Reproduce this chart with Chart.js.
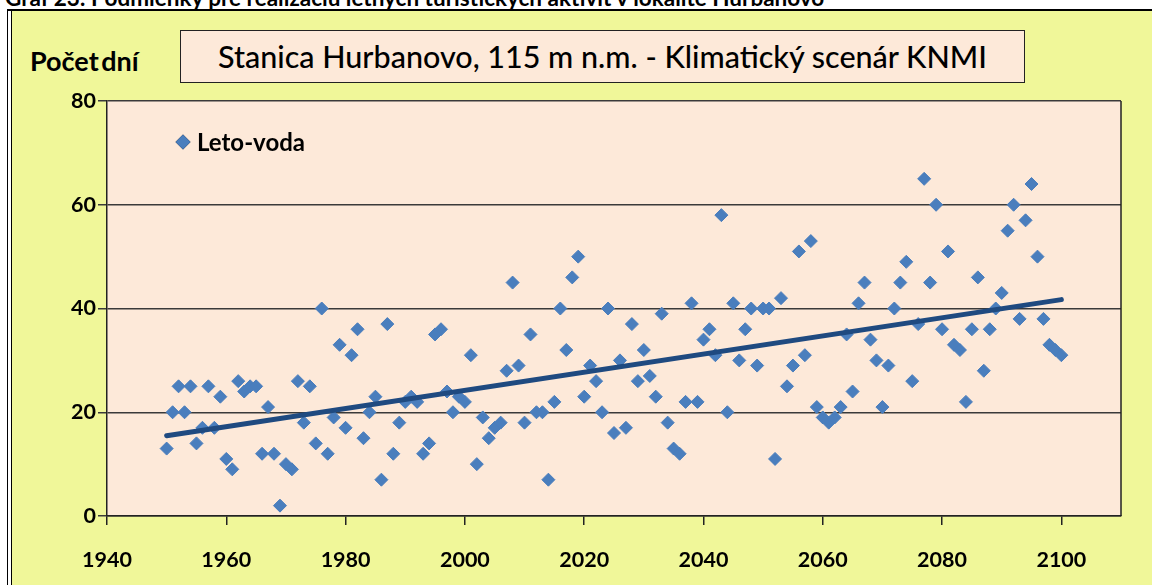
<!DOCTYPE html>
<html>
<head>
<meta charset="utf-8">
<script src="https://cdn.jsdelivr.net/npm/chart.js@4.4.1/dist/chart.umd.min.js"></script>
<style>
  html, body { margin: 0; padding: 0; width: 1152px; height: 585px; overflow: hidden; background: #fff; }
  #caption { position: absolute; left: 5px; top: -16px; font: bold 22.5px Lato, sans-serif; line-height: 27px; white-space: nowrap; color: #000; }
  #frame { position: absolute; left: 7px; top: 9px; width: 1160px; height: 590px; border-left: 1px solid #000; border-top: 2px solid #000; background: #fff; }
  #panel { position: absolute; left: 11px; top: 11px; width: 1160px; height: 590px; border-left: 1px solid #000; background: #F0F799; }
  #titlebox { position: absolute; left: 180px; top: 30px; width: 845px; height: 53px; box-sizing: border-box; border: 1px solid #222; background: #FDE9D9; font: 500 30.5px Lato, sans-serif; line-height: 51px; text-align: center; color: #000; white-space: nowrap; }
  #ylabel { position: absolute; left: 30px; top: 45px; font: bold 27px Lato, sans-serif; line-height: 32px; word-spacing: -4px; color: #000; white-space: nowrap; }
  #chart { position: absolute; left: 0; top: 0; }
</style>
</head>
<body>
<div id="caption">Graf 23: Podmienky pre realizáciu letných turistických aktivít v lokalite Hurbanovo</div>
<div id="frame"></div>
<div id="panel"></div>
<div id="titlebox">Stanica Hurbanovo, 115 m n.m. - Klimatický scenár KNMI</div>
<div id="ylabel">Počet dní</div>
<canvas id="chart" width="1152" height="585"></canvas>
<script>
// Number of summer water-recreation days per year ("Leto-voda"), 1950–2100
const seriesName = 'Leto-voda';
const firstYear = 1950;
const letoVoda = [
  13, 20, 25, 20, 25, 14, 17, 25, 17, 23,   // 1950s
  11,  9, 26, 24, 25, 25, 12, 21, 12,  2,   // 1960s
  10,  9, 26, 18, 25, 14, 40, 12, 19, 33,   // 1970s
  17, 31, 36, 15, 20, 23,  7, 37, 12, 18,   // 1980s
  22, 23, 22, 12, 14, 35, 36, 24, 20, 23,   // 1990s
  22, 31, 10, 19, 15, 17, 18, 28, 45, 29,   // 2000s
  18, 35, 20, 20,  7, 22, 40, 32, 46, 50,   // 2010s
  23, 29, 26, 20, 40, 16, 30, 17, 37, 26,   // 2020s
  32, 27, 23, 39, 18, 13, 12, 22, 41, 22,   // 2030s
  34, 36, 31, 58, 20, 41, 30, 36, 40, 29,   // 2040s
  40, 40, 11, 42, 25, 29, 51, 31, 53, 21,   // 2050s
  19, 18, 19, 21, 35, 24, 41, 45, 34, 30,   // 2060s
  21, 29, 40, 45, 49, 26, 37, 65, 45, 60,   // 2070s
  36, 51, 33, 32, 22, 36, 46, 28, 36, 40,   // 2080s
  43, 55, 60, 38, 57, 64, 50, 38, 33, 32,   // 2090s
  31                                         // 2100
];
const xTicks = [1940, 1960, 1980, 2000, 2020, 2040, 2060, 2080, 2100];
const yTicks = [0, 20, 40, 60, 80];

const points = letoVoda.map((v, i) => ({ x: firstYear + i, y: v }));

// Least-squares linear trend through the yearly values
const n = points.length;
const mx = points.reduce((s, p) => s + p.x, 0) / n;
const my = points.reduce((s, p) => s + p.y, 0) / n;
let sxy = 0, sxx = 0;
points.forEach(p => { sxy += (p.x - mx) * (p.y - my); sxx += (p.x - mx) * (p.x - mx); });
const slope = sxy / sxx;
const intercept = my - slope * mx;
const xFirst = points[0].x, xLast = points[n - 1].x;
const trend = [
  { x: xFirst, y: intercept + slope * xFirst },
  { x: xLast, y: intercept + slope * xLast }
];

const markerColor = '#4A7EBD';

// Plot-area fill, right edge, and in-plot legend
const plotDecor = {
  id: 'plotDecor',
  beforeDraw(chart) {
    const { ctx, chartArea: a } = chart;
    ctx.save();
    ctx.fillStyle = '#FDE9D9';
    ctx.fillRect(a.left, a.top, a.right - a.left, a.bottom - a.top);
    ctx.restore();
  },
  beforeDatasetsDraw(chart) {
    const { ctx, chartArea: a } = chart;
    ctx.save();
    ctx.strokeStyle = '#222';
    ctx.lineWidth = 1.5;
    ctx.beginPath();
    ctx.moveTo(a.right, a.top);
    ctx.lineTo(a.right, a.bottom);
    ctx.stroke();
    ctx.restore();
  },
  afterDraw(chart) {
    const { ctx, chartArea: a } = chart;
    const ds = chart.data.datasets[0];
    const cx = a.left + 76, cy = a.top + 41;
    ctx.save();
    Chart.helpers.drawPoint(ctx, { pointStyle: 'rectRot', radius: 7.5, borderWidth: 0 }, cx, cy);
    ctx.fillStyle = ds.backgroundColor;
    ctx.fill();
    ctx.fillStyle = '#000';
    ctx.font = 'bold 24px Lato, sans-serif';
    ctx.textBaseline = 'middle';
    ctx.fillText(ds.label, cx + 14, cy + 1);
    ctx.restore();
  }
};

new Chart(document.getElementById('chart'), {
  type: 'scatter',
  data: {
    datasets: [
      {
        label: seriesName,
        data: points,
        pointStyle: 'rectRot',
        pointRadius: 6.5,
        pointBorderWidth: 1,
        backgroundColor: markerColor,
        borderColor: markerColor,
        order: 2
      },
      {
        label: 'Lineárny trend',
        data: trend,
        type: 'line',
        showLine: true,
        pointRadius: 0,
        borderColor: '#1F4A80',
        borderWidth: 5,
        borderCapStyle: 'round',
        fill: false,
        order: 1
      }
    ]
  },
  plugins: [plotDecor],
  options: {
    responsive: false,
    animation: false,
    events: [],
    layout: { padding: { left: 0, top: 101, right: 31, bottom: 0 } },
    plugins: {
      legend: { display: false },
      tooltip: { enabled: false },
      title: { display: false }
    },
    scales: {
      x: {
        type: 'linear',
        min: 1940,
        max: 2110,
        afterFit(scale) { scale.height = 69; },
        afterBuildTicks(scale) { scale.ticks = xTicks.map(v => ({ value: v })); },
        ticks: {
          stepSize: 20,
          includeBounds: false,
          autoSkip: false,
          maxRotation: 0,
          padding: 22,
          color: '#000',
          font: { family: 'Lato', weight: 'bold', size: 21.5 },
          callback: v => String(v)
        },
        grid: { drawOnChartArea: false, drawTicks: true, tickLength: 9, color: '#222', lineWidth: 1.5 },
        border: { display: true, color: '#222', width: 1.5 }
      },
      y: {
        min: 0,
        max: 80,
        afterFit(scale) { scale.width = 107; },
        afterBuildTicks(scale) { scale.ticks = yTicks.map(v => ({ value: v })); },
        ticks: {
          stepSize: 20,
          padding: 2,
          color: '#000',
          font: { family: 'Lato', weight: 'bold', size: 21.5 }
        },
        grid: { color: '#3a3a3a', lineWidth: 1.5, drawTicks: true, tickLength: 9 },
        border: { display: true, color: '#222', width: 1.5 }
      }
    }
  }
});
</script>
</body>
</html>
